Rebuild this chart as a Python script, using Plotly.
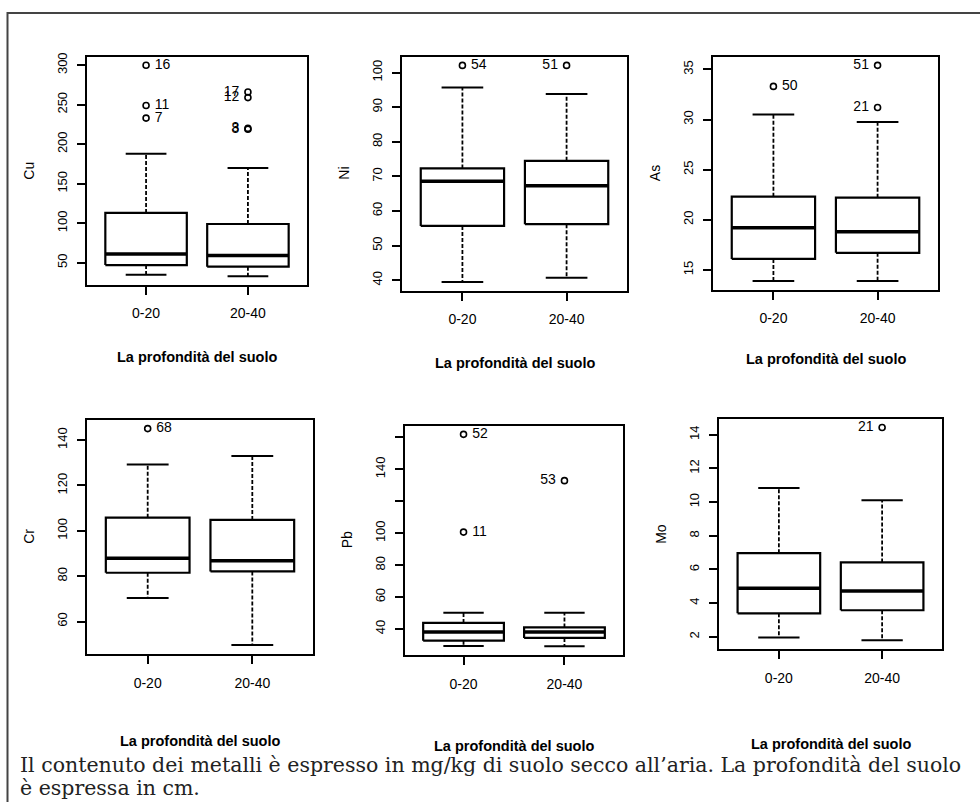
import plotly.graph_objects as go

W, H = 980, 802

categories = ["0-20", "20-40"]
metals = ["Cu", "Ni", "As", "Cr", "Pb", "Mo"]

# five-number summaries per depth class [0-20, 20-40]
whisker_low = {"Cu": [34.8, 33.0], "Ni": [39.5, 40.7], "As": [13.9, 13.9],
               "Cr": [70.4, 49.6], "Pb": [29.4, 29.2], "Mo": [1.96, 1.80]}
quart1 = {"Cu": [47.0, 45.0], "Ni": [55.7, 56.2], "As": [16.1, 16.7],
          "Cr": [81.5, 82.1], "Pb": [32.7, 34.4], "Mo": [3.40, 3.58]}
median = {"Cu": [61.0, 59.0], "Ni": [68.6, 67.3], "As": [19.2, 18.8],
          "Cr": [87.9, 86.8], "Pb": [38.1, 38.1], "Mo": [4.88, 4.72]}
quart3 = {"Cu": [113.0, 99.0], "Ni": [72.3, 74.5], "As": [22.3, 22.2],
          "Cr": [105.8, 104.8], "Pb": [43.8, 41.0], "Mo": [6.97, 6.42]}
whisker_high = {"Cu": [188.0, 170.0], "Ni": [95.7, 93.8], "As": [30.5, 29.75],
                "Cr": [129.3, 133.0], "Pb": [50.2, 50.2], "Mo": [10.84, 10.11]}

# outliers: group index (0 = 0-20, 1 = 20-40), value, sample label
out_group = {"Cu": [0, 0, 0, 1, 1, 1, 1], "Ni": [0, 1], "As": [0, 1, 1],
             "Cr": [0], "Pb": [0, 0, 1], "Mo": [1]}
out_value = {"Cu": [300, 249, 233, 266, 259, 220, 219], "Ni": [102.1, 102.1],
             "As": [33.3, 35.4, 31.2], "Cr": [145.1], "Pb": [161.9, 100.7, 132.9],
             "Mo": [14.43]}
out_label = {"Cu": ["16", "11", "7", "17", "12", "3", "8"], "Ni": ["54", "51"],
             "As": ["50", "51", "21"], "Cr": ["68"], "Pb": ["52", "11", "53"],
             "Mo": ["21"]}

y_ticks = {"Cu": [50, 100, 150, 200, 250, 300],
           "Ni": [40, 50, 60, 70, 80, 90, 100],
           "As": [15, 20, 25, 30, 35],
           "Cr": [60, 80, 100, 120, 140],
           "Pb": [40, 60, 80, 100, 120, 140, 160],
           "Mo": [2, 4, 6, 8, 10, 12, 14]}
y_ticktext = {"Cu": ["50", "100", "150", "200", "250", "300"],
              "Ni": ["40", "50", "60", "70", "80", "90", "100"],
              "As": ["15", "20", "25", "30", "35"],
              "Cr": ["60", "80", "100", "120", "140"],
              "Pb": ["40", "60", "80", "100", "", "140", ""],
              "Mo": ["2", "4", "6", "8", "10", "12", "14"]}

x_title = "La profondità del suolo"
caption_1 = "Il contenuto dei metalli è espresso in mg/kg di suolo secco all’aria. La profondità del suolo"
caption_2 = "è espressa in cm."

# plot frames in pixels: left, right, top, bottom
frames = {"Cu": (87, 307, 53, 282), "Ni": (402, 627, 53, 288),
          "As": (713, 938, 53, 287), "Cr": (87, 313, 418, 653),
          "Pb": (405, 623, 424, 654), "Mo": (719, 942, 417, 648)}
xtitle_y = {"Cu": 355, "Ni": 361, "As": 357, "Cr": 741, "Pb": 746, "Mo": 744}

def px(x):
    return x / W

def py(y):
    return 1 - y / H

FONT = "Liberation Sans, Arial, sans-serif"
BOX_HALF = 0.4
CAP_HALF = 0.2

fig = go.Figure()
annotations = []

for i, m in enumerate(metals, start=1):
    xa = "x" if i == 1 else f"x{i}"
    ya = "y" if i == 1 else f"y{i}"
    for g in range(2):
        c = g + 1
        lo, q1, md, q3, hi = (whisker_low[m][g], quart1[m][g], median[m][g],
                              quart3[m][g], whisker_high[m][g])
        # whiskers (dashed)
        fig.add_trace(go.Scatter(x=[c, c, None, c, c], y=[q3, hi, None, q1, lo],
                                 mode="lines", xaxis=xa, yaxis=ya,
                                 line=dict(color="black", width=1.8, dash="4px,2px"),
                                 showlegend=False, hoverinfo="skip"))
        # caps
        fig.add_trace(go.Scatter(x=[c - CAP_HALF, c + CAP_HALF, None, c - CAP_HALF, c + CAP_HALF],
                                 y=[hi, hi, None, lo, lo],
                                 mode="lines", xaxis=xa, yaxis=ya,
                                 line=dict(color="black", width=2),
                                 showlegend=False, hoverinfo="skip"))
        # box
        fig.add_trace(go.Scatter(x=[c - BOX_HALF, c + BOX_HALF, c + BOX_HALF, c - BOX_HALF, c - BOX_HALF],
                                 y=[q1, q1, q3, q3, q1],
                                 mode="lines", xaxis=xa, yaxis=ya, fill="toself",
                                 fillcolor="white",
                                 line=dict(color="black", width=2.2),
                                 showlegend=False, hoverinfo="skip"))
        # median
        fig.add_trace(go.Scatter(x=[c - BOX_HALF, c + BOX_HALF], y=[md, md],
                                 mode="lines", xaxis=xa, yaxis=ya,
                                 line=dict(color="black", width=3.5),
                                 showlegend=False, hoverinfo="skip"))
    # outliers
    for g in range(2):
        xs = [g + 1 for k, gg in enumerate(out_group[m]) if gg == g]
        ys = [out_value[m][k] for k, gg in enumerate(out_group[m]) if gg == g]
        ts = [out_label[m][k] for k, gg in enumerate(out_group[m]) if gg == g]
        if not xs:
            continue
        ts = [(" " + t) if g == 0 else (t + " ") for t in ts]
        fig.add_trace(go.Scatter(x=xs, y=ys, text=ts, mode="markers+text",
                                 textposition="middle right" if g == 0 else "middle left",
                                 textfont=dict(family=FONT, size=14, color="black"),
                                 marker=dict(symbol="circle-open", size=6,
                                             color="black", line=dict(width=1.6)),
                                 xaxis=xa, yaxis=ya, showlegend=False, hoverinfo="skip"))

    vals = whisker_low[m] + whisker_high[m] + out_value[m]
    vmin, vmax = min(vals), max(vals)
    pad = 0.04 * (vmax - vmin)
    L, R, T, B = frames[m]
    axis_common = dict(showline=True, mirror=True, linecolor="black", linewidth=2,
                       showgrid=False, zeroline=False, ticks="outside", ticklen=8,
                       tickwidth=1.5, tickcolor="black")
    fig.update_layout(**{
        ("xaxis" if i == 1 else f"xaxis{i}"): dict(
            domain=[px(L), px(R)], anchor=ya, range=[0.42, 2.58],
            tickvals=[1, 2], ticktext=categories, ticklabelstandoff=7,
            tickfont=dict(family=FONT, size=14, color="black"), **axis_common),
        ("yaxis" if i == 1 else f"yaxis{i}"): dict(
            domain=[py(B), py(T)], anchor=xa, range=[vmin - pad, vmax + pad],
            tickvals=y_ticks[m], ticktext=y_ticktext[m], tickangle=-90,
            ticklabelstandoff=5,
            tickfont=dict(family=FONT, size=13, color="black"), **axis_common),
    })
    # y-axis title
    annotations.append(dict(x=px(L - 58), y=py((T + B) / 2), xref="paper", yref="paper",
                            text=m, textangle=-90, showarrow=False,
                            xanchor="center", yanchor="middle",
                            font=dict(family=FONT, size=14, color="black")))
    # x-axis title
    annotations.append(dict(x=px((L + R) / 2), y=py(xtitle_y[m]), xref="paper", yref="paper",
                            text=x_title, showarrow=False, xanchor="center", yanchor="middle",
                            font=dict(family=FONT, size=14.5, color="black", weight="bold")))

CAP_FONT = dict(family="DejaVu Serif, serif", size=20.5, color="#222")
annotations.append(dict(x=px(18), y=py(765), xref="paper", yref="paper", text=caption_1,
                        showarrow=False, xanchor="left", yanchor="middle", font=CAP_FONT))
annotations.append(dict(x=px(18), y=py(788), xref="paper", yref="paper", text=caption_2,
                        showarrow=False, xanchor="left", yanchor="middle", font=CAP_FONT))

fig.update_layout(
    width=W, height=H, margin=dict(l=0, r=0, t=0, b=0),
    paper_bgcolor="white", plot_bgcolor="white",
    annotations=annotations,
    shapes=[dict(type="path", xref="paper", yref="paper",
                 path=f"M {px(7.5)},{py(850)} L {px(7.5)},{py(9)} L {px(1000)},{py(9)}",
                 line=dict(color="#444", width=2))],
)

fig.write_html("out.html", config={"displayModeBar": False},
               post_script="document.body.style.margin='0px';")
